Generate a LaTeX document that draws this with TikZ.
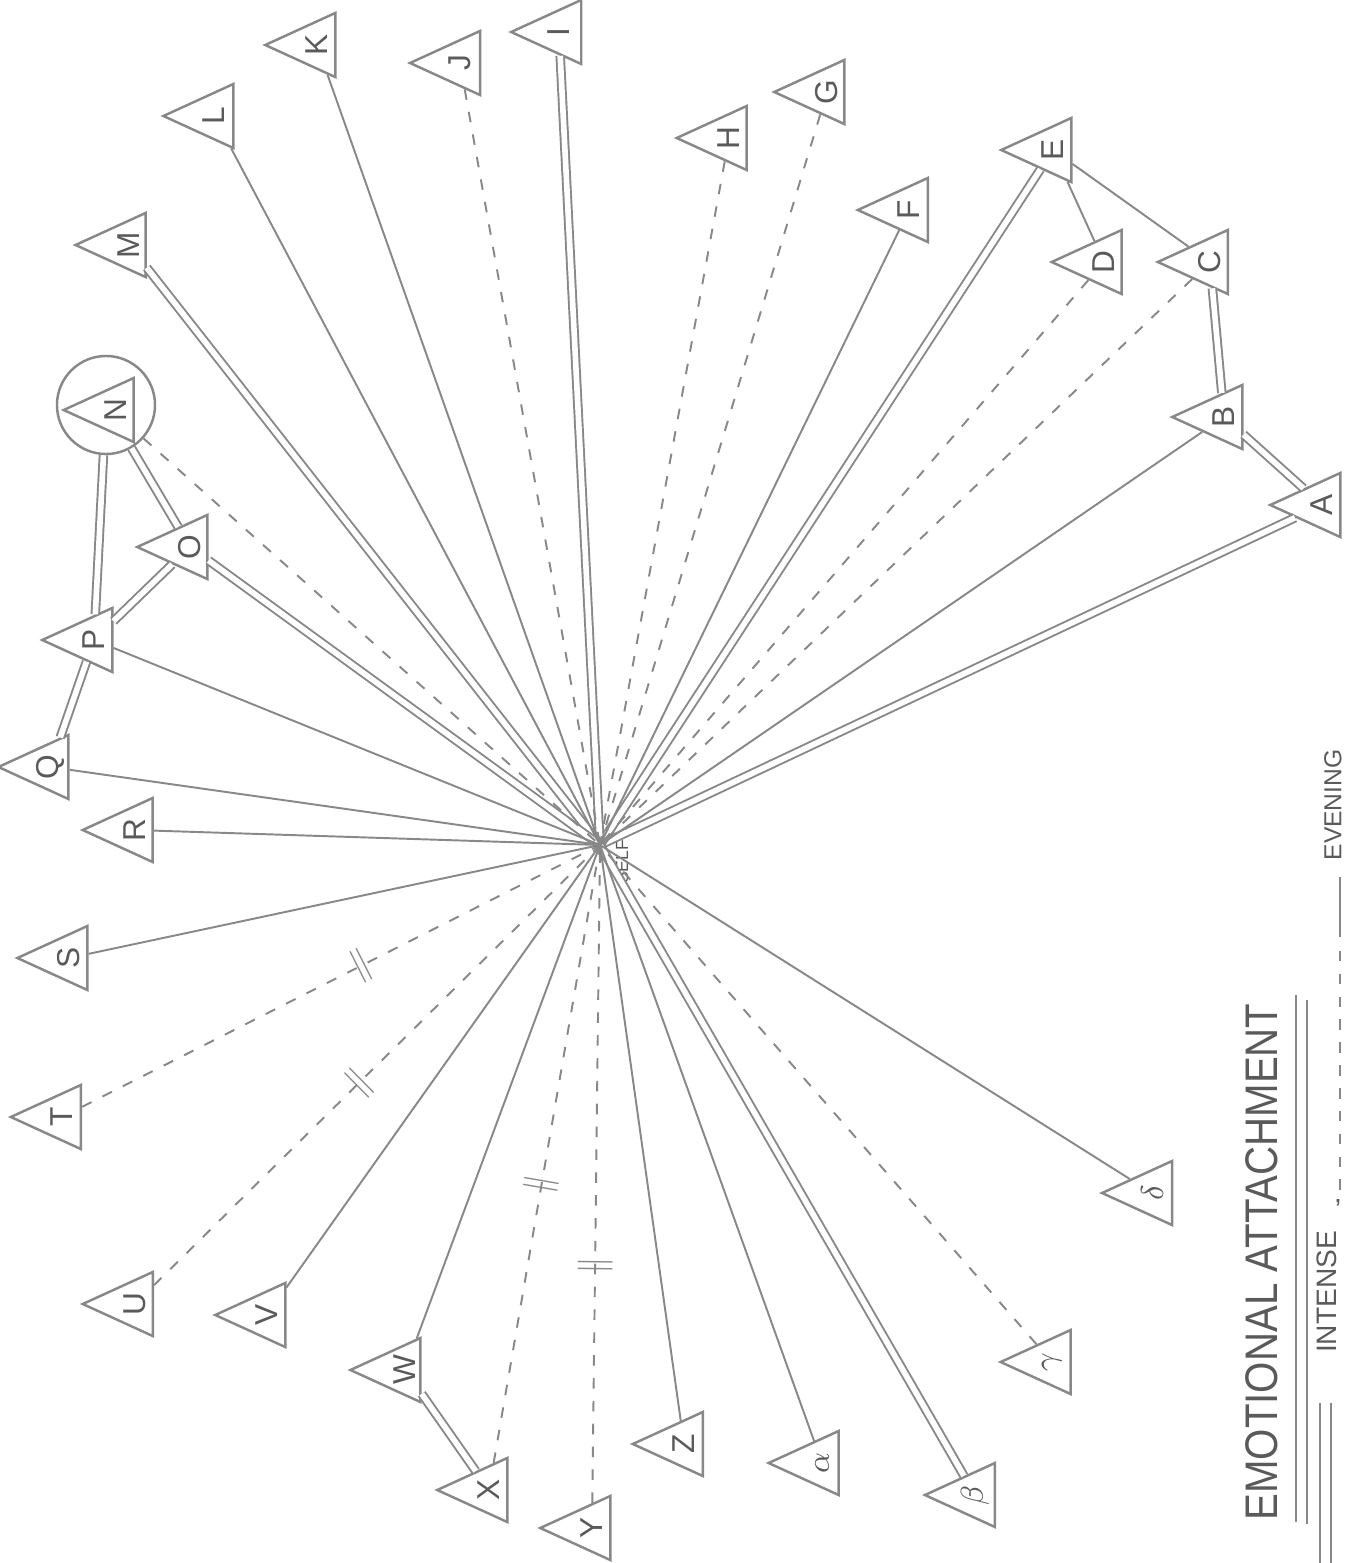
\documentclass[tikz,border=0pt]{standalone}
\usepackage{fontspec}
\usepackage{graphicx}
\setmainfont{Liberation Sans}
\usetikzlibrary{shapes.geometric}
\definecolor{pencil}{HTML}{888888}
\definecolor{ink}{HTML}{5A5A5A}
\tikzset{
  person/.style={shape=isosceles triangle, rotate=90, shape border rotate=90,
    isosceles triangle stretches, minimum width=0.64cm, minimum height=0.70cm,
    inner sep=0pt, draw=pencil, line width=0.7pt, text=ink,
    font=\fontsize{9}{9}\selectfont},
  tie/.style={draw=pencil, line width=0.55pt},
  strong/.style={tie, double=white, double distance=1.6pt},
  weak/.style={tie, dash pattern=on 3pt off 3.5pt},
  hash/.style={sloped, inner sep=0pt, text=pencil, font=\fontsize{10}{10}\selectfont},
  legendtext/.style={rotate=90, text=ink, inner sep=0pt},
}
\begin{document}
\begin{tikzpicture}[x=0.01cm, y=-0.01cm]
\useasboundingbox (0,0) rectangle (1348,1563);
\fill[white] (0,0) rectangle (1348,1563);

\coordinate (self) at (600,845);
\node[legendtext, font=\fontsize{5}{5}\selectfont] (selflabel) at (622,862) {SELF};

% people
\node[person] (A) at (1322,505) {A};
\node[person] (B) at (1224,417) {B};
\node[person] (C) at (1210,262) {C};
\node[person] (D) at (1104,262) {D};
\node[person] (E) at (1053,150) {E};
\node[person] (F) at (909,210) {F};
\node[person] (G) at (827,92) {G};
\node[person] (H) at (729,138) {H};
\node[person] (I) at (559,32) {I};
\node[person] (J) at (460,63) {J};
\node[person] (K) at (317,45) {K};
\node[person] (L) at (214,116) {L};
\node[person] (M) at (129,245) {M};
\node[person] (N) at (116,410) {N};
\node[draw=pencil, line width=0.7pt, circle, minimum size=0.98cm, inner sep=0pt] (Nc) at (106,405) {};
\node[person] (O) at (190,547) {O};
\node[person] (P) at (94,640) {P};
\node[person] (Q) at (50,767) {Q};
\node[person] (R) at (135,830) {R};
\node[person] (S) at (69,958) {S};
\node[person] (T) at (62,1117) {T};
\node[person] (U) at (135,1304) {U};
\node[person] (V) at (267,1315) {V};
\node[person] (W) at (405,1370) {W};
\node[person] (X) at (489,1490) {X};
\node[person] (Y) at (592,1528) {Y};
\node[person] (Z) at (684,1444) {Z};
\node[person] (al) at (822,1463) {$\alpha$};
\node[person] (be) at (975,1495) {$\beta$};
\node[person] (ga) at (1052,1362) {$\gamma$};
\node[person] (de) at (1152,1193) {$\delta$};

% intense ties (drawn first)
\foreach \n in {A,E,I,M,O,be}
  \draw[strong] (\n) -- (self);
\draw[strong] (A) -- (B);
\draw[strong] (B) -- (C);
\draw[strong] (Nc) -- (O);
\draw[strong] (Nc) -- (P);
\draw[strong] (O) -- (P);
\draw[strong] (P) -- (Q);
\draw[strong] (W) -- (X);

% ordinary ties
\foreach \n in {B,F,K,L,P,Q,R,S,V,W,Z,al,de}
  \draw[tie] (\n) -- (self);
\draw[tie] (C) -- (E);
\draw[tie] (D) -- (E);

% weak ties
\foreach \n in {C,D,G,H,J,Nc,ga}
  \draw[weak] (\n) -- (self);
\draw[weak] (T) -- node[hash, pos=0.54] {$\|$} (self);
\draw[weak] (U) -- node[hash, pos=0.46] {$\|$} (self);
\draw[weak] (X) -- node[hash, pos=0.45] {$\|$} (self);
\draw[weak] (Y) -- node[hash, pos=0.36] {$\|$} (self);

% legend
\node[legendtext, font=\fontsize{13}{13}\selectfont] (title) at (1262,1262)
  {\scalebox{0.88}[1]{EMOTIONAL ATTACHMENT}};
\coordinate (u1a) at (1296,995); \coordinate (u1b) at (1296,1522);
\coordinate (u2a) at (1307,1000); \coordinate (u2b) at (1307,1524);
\draw[tie] (u1a) -- (u1b);
\draw[tie] (u2a) -- (u2b);
\coordinate (k1a) at (1320,1403); \coordinate (k1b) at (1320,1563);
\coordinate (k2a) at (1331,1403); \coordinate (k2b) at (1331,1563);
\draw[tie] (k1a) -- (k1b);
\draw[tie] (k2a) -- (k2b);
\node[legendtext, font=\fontsize{8}{8}\selectfont] (intense) at (1327,1292) {INTENSE};
\node[text=ink, inner sep=0pt, font=\fontsize{8}{8}\selectfont] (comma) at (1338,1203) {,};
\coordinate (d1) at (1340,1190); \coordinate (d2) at (1340,945);
\draw[weak] (d1) -- (d2);
\coordinate (e1) at (1340,937); \coordinate (e2) at (1340,877);
\draw[tie] (e1) -- (e2);
\node[legendtext, font=\fontsize{7}{7}\selectfont] (evening) at (1333,805) {EVENING};
\end{tikzpicture}
\end{document}
